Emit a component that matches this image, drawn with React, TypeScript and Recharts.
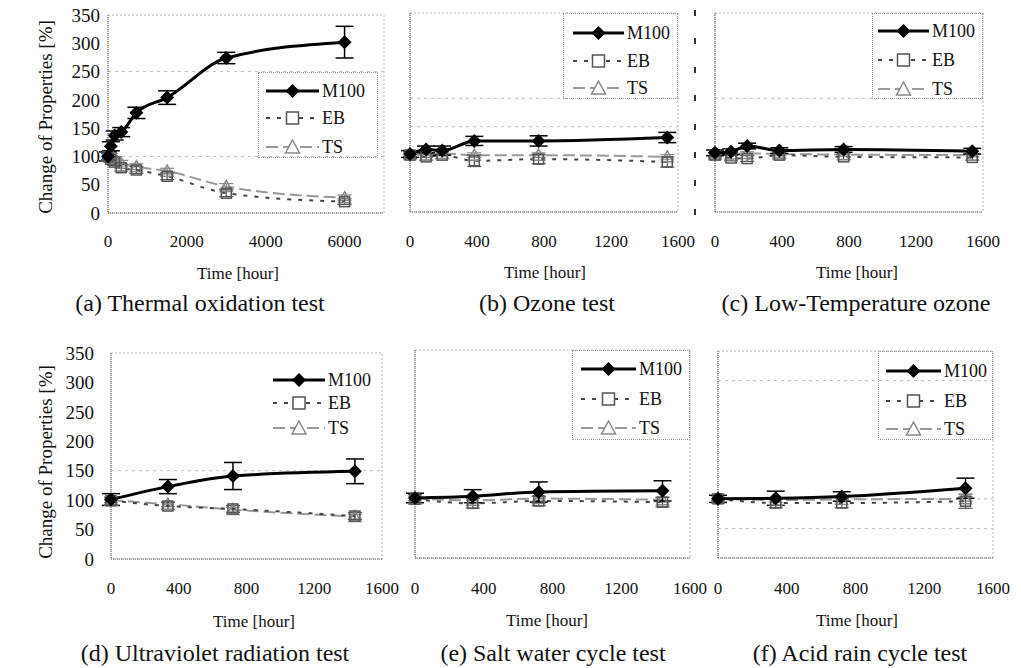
import { LineChart, Line, XAxis, YAxis, ErrorBar, ReferenceLine, ReferenceArea, Legend } from 'recharts';

const SERIF = '"Liberation Serif", "Times New Roman", serif';

// (a) Thermal oxidation test
const hoursA = [0, 72, 168, 336, 720, 1500, 3000, 6000];
const m100A = [100, 118, 137, 143, 177, 204, 274, 302];
const m100ErrA = [8, 8, 8, 8, 10, 12, 10, 28];
const ebA = [100, 95, 90, 80, 76, 65, 35, 20];
const ebErrA = [6, 6, 6, 6, 6, 6, 6, 5];
const tsA = [100, 100, 95, 88, 82, 74, 47, 27];
const tsErrA = [5, 5, 5, 5, 5, 5, 5, 5];

// (b) Ozone test
const hoursB = [0, 96, 192, 384, 768, 1536];
const m100B = [102, 110, 108, 125, 125, 131];
const m100ErrB = [6, 6, 8, 8, 9, 9];
const ebB = [100, 97, 100, 90, 93, 88];
const ebErrB = [6, 6, 6, 10, 8, 9];
const tsB = [102, 100, 103, 100, 100, 97];
const tsErrB = [4, 4, 4, 4, 4, 4];

// (c) Low-Temperature ozone
const hoursC = [0, 96, 192, 384, 768, 1536];
const m100C = [104, 106, 116, 108, 110, 107];
const m100ErrC = [5, 5, 5, 5, 5, 5];
const ebC = [100, 95, 94, 100, 97, 96];
const ebErrC = [5, 5, 5, 5, 5, 5];
const tsC = [101, 102, 103, 102, 101, 100];
const tsErrC = [3, 3, 3, 3, 3, 3];

// (d) Ultraviolet radiation test
const hoursD = [0, 336, 720, 1440];
const m100D = [101, 123, 141, 149];
const m100ErrD = [10, 12, 23, 21];
const ebD = [99, 90, 85, 73];
const ebErrD = [6, 6, 6, 6];
const tsD = [100, 93, 84, 72];
const tsErrD = [4, 4, 4, 4];

// (e) Salt water cycle test
const hoursE = [0, 336, 720, 1440];
const m100E = [101, 104, 111, 113];
const m100ErrE = [8, 11, 17, 17];
const ebE = [99, 92, 96, 94];
const ebErrE = [8, 8, 8, 8];
const tsE = [100, 97, 100, 98];
const tsErrE = [4, 4, 4, 4];

// (f) Acid rain cycle test
const hoursF = [0, 336, 720, 1440];
const m100F = [100, 101, 104, 118];
const m100ErrF = [6, 12, 8, 17];
const ebF = [100, 93, 93, 96];
const ebErrF = [6, 8, 8, 12];
const tsF = [101, 98, 99, 100];
const tsErrF = [4, 4, 4, 4];

const yTicks = [0, 50, 100, 150, 200, 250, 300, 350];
const longTicks = [0, 2000, 4000, 6000];
const shortTicks = [0, 400, 800, 1200, 1600];
const seriesNames = ['M100', 'EB', 'TS'];

const PAD_L = 110;
const PAD_T = 12;
const PAD_R = 34;
const PAD_B = 40;

function makeRows(h: number[], m: number[], mE: number[], e: number[], eE: number[], t: number[], tE: number[]) {
  return h.map((hour, i) => ({
    hour,
    m100: m[i],
    m100Err: mE[i],
    eb: e[i],
    ebErr: eE[i],
    ts: t[i],
    tsErr: tE[i],
  }));
}

function diamond(p: any) {
  const { cx, cy, index } = p;
  if (cx == null || cy == null) return <g key={index} />;
  return <path key={index} d={`M${cx},${cy - 7}L${cx + 7},${cy}L${cx},${cy + 7}L${cx - 7},${cy}Z`} fill="#000" />;
}

function square(p: any) {
  const { cx, cy, index } = p;
  if (cx == null || cy == null) return <g key={index} />;
  return <rect key={index} x={cx - 5} y={cy - 5} width={10} height={10} fill="none" stroke="#555" strokeWidth={1.5} />;
}

function triangle(p: any) {
  const { cx, cy, index } = p;
  if (cx == null || cy == null) return <g key={index} />;
  return <path key={index} d={`M${cx},${cy - 6}L${cx + 6},${cy + 5}L${cx - 6},${cy + 5}Z`} fill="none" stroke="#888" strokeWidth={1.5} />;
}

function LegendSample({ idx, w }: { idx: number; w: number }) {
  const c = w / 2;
  return (
    <svg width={w} height={20} style={{ display: 'block' }}>
      {idx === 0 && (
        <>
          <line x1={0} y1={10} x2={w} y2={10} stroke="#000" strokeWidth={3} />
          <path d={`M${c},3L${c + 7},10L${c},17L${c - 7},10Z`} fill="#000" />
        </>
      )}
      {idx === 1 && (
        <>
          <line x1={0} y1={10} x2={w} y2={10} stroke="#444" strokeWidth={2} strokeDasharray="4 7" />
          <rect x={c - 6} y={4} width={12} height={12} fill="#fff" stroke="#555" strokeWidth={1.5} />
        </>
      )}
      {idx === 2 && (
        <>
          <line x1={0} y1={10} x2={w} y2={10} stroke="#999" strokeWidth={2} strokeDasharray="12 5" />
          <path d={`M${c},3L${c + 7},16L${c - 7},16Z`} fill="#fff" stroke="#888" strokeWidth={1.5} />
        </>
      )}
    </svg>
  );
}

type LegendCfg = { box: number[]; sampleX: number; sampleW: number; rows: number[]; boxed: boolean };

function Panel(props: {
  rows: any[];
  plot: number[];
  xMax: number;
  xTicks: number[];
  showY: boolean;
  yGap: number;
  xGap: number;
  grid: number[];
  legend: LegendCfg;
}) {
  const { rows, plot, xMax, xTicks, showY, yGap, xGap, grid, legend } = props;
  const [px, py, pw, ph] = plot;
  const left = px - PAD_L;
  const top = py - PAD_T;
  const [bx, by, bw, bh] = legend.box;
  const tick = { fill: '#111', fontSize: 17, fontFamily: SERIF };
  const ytick = { fill: '#111', fontSize: 19, fontFamily: SERIF };

  const legendContent = () => (
    <div
      style={{
        position: 'relative',
        width: bw,
        height: bh,
        boxSizing: 'border-box',
        border: legend.boxed ? '1px dotted #999' : 'none',
      }}
    >
      {seriesNames.map((name, i) => (
        <div
          key={name}
          style={{
            position: 'absolute',
            left: legend.sampleX - bx,
            top: legend.rows[i] - by - 10,
            height: 20,
            display: 'flex',
            alignItems: 'center',
            whiteSpace: 'nowrap',
          }}
        >
          <LegendSample idx={i} w={legend.sampleW} />
          <span style={{ marginLeft: 3, fontSize: 18, fontFamily: SERIF, color: '#111', lineHeight: '20px' }}>{name}</span>
        </div>
      ))}
    </div>
  );

  return (
    <div style={{ position: 'absolute', left, top }}>
      <LineChart
        width={pw + PAD_L + PAD_R}
        height={ph + PAD_T + PAD_B}
        data={rows}
        margin={{ top: PAD_T, right: PAD_R, bottom: 0, left: 0 }}
      >
        <XAxis
          type="number"
          dataKey="hour"
          domain={[0, xMax]}
          ticks={xTicks}
          interval={0}
          height={PAD_B}
          tickLine={false}
          tickSize={0}
          tickMargin={xGap}
          tick={tick}
          axisLine={{ stroke: '#555', strokeDasharray: '1 1' }}
        />
        <YAxis
          type="number"
          domain={[0, 350]}
          ticks={yTicks}
          interval={0}
          width={PAD_L}
          tickLine={false}
          tickSize={0}
          tickMargin={yGap}
          tick={showY ? ytick : false}
          axisLine={{ stroke: '#555', strokeDasharray: '1 1' }}
        />
        <ReferenceArea x1={0} x2={xMax} y1={0} y2={350} fill="none" stroke="#b5b5b5" strokeDasharray="2 2" />
        {grid.map((v) => (
          <ReferenceLine key={v} y={v} stroke="#bdbdbd" strokeDasharray="3 4" />
        ))}
        <Line
          type="monotone"
          dataKey="ts"
          stroke="#999"
          strokeWidth={2}
          strokeDasharray="12 5"
          dot={triangle}
          isAnimationActive={false}
        >
          <ErrorBar dataKey="tsErr" width={7} stroke="#888" strokeWidth={1.2} direction="y" />
        </Line>
        <Line
          type="monotone"
          dataKey="eb"
          stroke="#444"
          strokeWidth={2}
          strokeDasharray="4 7"
          dot={square}
          isAnimationActive={false}
        >
          <ErrorBar dataKey="ebErr" width={7} stroke="#555" strokeWidth={1.2} direction="y" />
        </Line>
        <Line type="monotone" dataKey="m100" stroke="#000" strokeWidth={3} dot={diamond} isAnimationActive={false}>
          <ErrorBar dataKey="m100Err" width={9} stroke="#000" strokeWidth={1.5} direction="y" />
        </Line>
        <Legend
          layout="vertical"
          align="center"
          verticalAlign="middle"
          content={legendContent}
          wrapperStyle={{ left: bx - left, top: by - top, width: bw, height: bh }}
        />
      </LineChart>
    </div>
  );
}

function Txt({ x, y, size, children, rotate }: { x: number; y: number; size: number; children: any; rotate?: boolean }) {
  return (
    <div
      style={{
        position: 'absolute',
        left: x,
        top: y,
        transform: `translate(-50%, -50%)${rotate ? ' rotate(-90deg)' : ''}`,
        fontFamily: SERIF,
        fontSize: size,
        color: '#111',
        whiteSpace: 'nowrap',
        lineHeight: 1,
      }}
    >
      {children}
    </div>
  );
}

export default function App() {
  const rowsA = makeRows(hoursA, m100A, m100ErrA, ebA, ebErrA, tsA, tsErrA);
  const rowsB = makeRows(hoursB, m100B, m100ErrB, ebB, ebErrB, tsB, tsErrB);
  const rowsC = makeRows(hoursC, m100C, m100ErrC, ebC, ebErrC, tsC, tsErrC);
  const rowsD = makeRows(hoursD, m100D, m100ErrD, ebD, ebErrD, tsD, tsErrD);
  const rowsE = makeRows(hoursE, m100E, m100ErrE, ebE, ebErrE, tsE, tsErrE);
  const rowsF = makeRows(hoursF, m100F, m100ErrF, ebF, ebErrF, tsF, tsErrF);

  return (
    <div style={{ position: 'absolute', left: 0, top: 0, width: 1021, height: 668, background: '#fff', overflow: 'hidden' }}>
      <Panel
        rows={rowsA}
        plot={[108, 15, 276, 198]}
        xMax={7000}
        xTicks={longTicks}
        showY
        yGap={8}
        xGap={22}
        grid={[100, 250]}
        legend={{ box: [258, 72, 120, 86], sampleX: 265, sampleW: 53, rows: [90, 117, 146], boxed: true }}
      />
      <Panel
        rows={rowsB}
        plot={[410, 13, 268, 199]}
        xMax={1600}
        xTicks={shortTicks}
        showY={false}
        yGap={8}
        xGap={23}
        grid={[150, 200]}
        legend={{ box: [563, 13, 115, 86], sampleX: 572, sampleW: 51, rows: [32, 60, 87], boxed: true }}
      />
      <Panel
        rows={rowsC}
        plot={[715, 13, 268, 199]}
        xMax={1600}
        xTicks={shortTicks}
        showY={false}
        yGap={8}
        xGap={23}
        grid={[150, 200]}
        legend={{ box: [872, 13, 111, 86], sampleX: 877, sampleW: 51, rows: [30, 59, 88], boxed: true }}
      />
      <Panel
        rows={rowsD}
        plot={[111, 353, 271, 206]}
        xMax={1600}
        xTicks={shortTicks}
        showY
        yGap={17}
        xGap={23}
        grid={[150]}
        legend={{ box: [268, 365, 115, 75], sampleX: 273, sampleW: 52, rows: [380, 403, 428], boxed: false }}
      />
      <Panel
        rows={rowsE}
        plot={[415, 350, 275, 208]}
        xMax={1600}
        xTicks={shortTicks}
        showY={false}
        yGap={8}
        xGap={24}
        grid={[]}
        legend={{ box: [572, 350, 118, 90], sampleX: 580, sampleW: 55, rows: [368, 398, 427], boxed: true }}
      />
      <Panel
        rows={rowsF}
        plot={[718, 351, 275, 207]}
        xMax={1600}
        xTicks={shortTicks}
        showY={false}
        yGap={8}
        xGap={24}
        grid={[50, 100, 300]}
        legend={{ box: [878, 351, 115, 89], sampleX: 885, sampleW: 55, rows: [370, 400, 428], boxed: true }}
      />

      {/* stray tick column left of panel (c) */}
      <div
        style={{
          position: 'absolute',
          left: 694,
          top: 10,
          width: 2,
          height: 206,
          background: 'repeating-linear-gradient(to bottom, #333 0px, #333 6px, transparent 6px, transparent 28.4px)',
        }}
      />

      <Txt x={45} y={117} size={19} rotate>Change of Properties [%]</Txt>
      <Txt x={45} y={462} size={19} rotate>Change of Properties [%]</Txt>

      <Txt x={238} y={273} size={17}>Time [hour]</Txt>
      <Txt x={545} y={272} size={17}>Time [hour]</Txt>
      <Txt x={857} y={272} size={17}>Time [hour]</Txt>
      <Txt x={254} y={621} size={17}>Time [hour]</Txt>
      <Txt x={547} y={620} size={17}>Time [hour]</Txt>
      <Txt x={857} y={620} size={17}>Time [hour]</Txt>

      <Txt x={200} y={303} size={24}>(a) Thermal oxidation test</Txt>
      <Txt x={547} y={303} size={24}>(b) Ozone test</Txt>
      <Txt x={856} y={303} size={24}>(c) Low-Temperature ozone</Txt>
      <Txt x={215} y={653} size={24}>(d) Ultraviolet radiation test</Txt>
      <Txt x={553} y={653} size={24}>(e) Salt water cycle test</Txt>
      <Txt x={860} y={653} size={24}>(f) Acid rain cycle test</Txt>
    </div>
  );
}
